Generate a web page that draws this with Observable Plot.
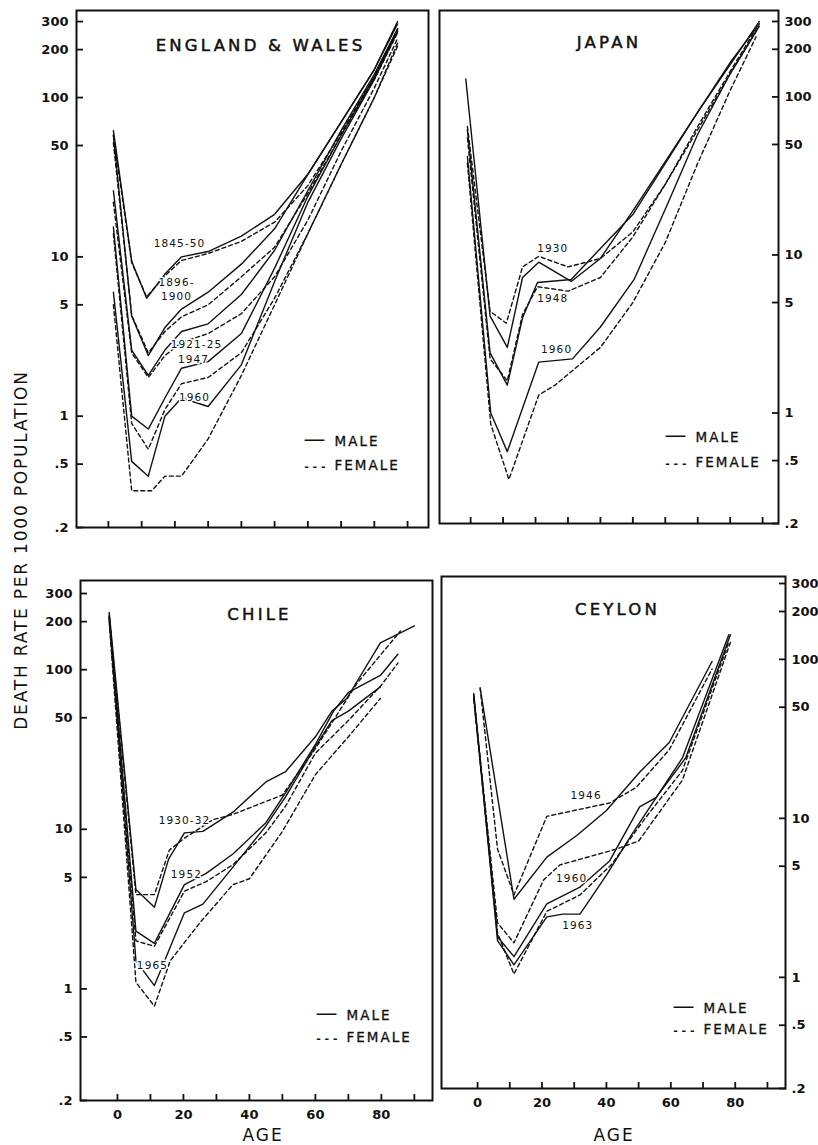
<!DOCTYPE html>
<html><head><meta charset="utf-8">
<script src="https://cdn.jsdelivr.net/npm/d3@7"></script>
<script src="https://cdn.jsdelivr.net/npm/@observablehq/plot@0.6"></script>
<style>
body{margin:0;background:#fff;}
#chart{position:relative;width:818px;height:1145px;font-family:"DejaVu Sans",sans-serif;color:#111;overflow:hidden;}
#chart svg{position:absolute;overflow:visible;}
.ytitle{position:absolute;left:21px;top:550px;transform:translate(-50%,-50%) rotate(-90deg);white-space:nowrap;font-size:17px;letter-spacing:1.8px;}
.xtitle{position:absolute;top:1125px;transform:translateX(-50%);font-size:17px;letter-spacing:2px;}
</style></head><body><div id="chart"><div class="ytitle">DEATH RATE PER 1000 POPULATION</div><div class="xtitle" style="left:263px">AGE</div><div class="xtitle" style="left:614px">AGE</div></div>
<script>
// ---------- data ----------
const yTicks = [0.2, 0.5, 1, 5, 10, 50, 100, 200, 300];
const xTicks = [0, 10, 20, 30, 40, 50, 60, 70, 80, 90];
const xLabels = [0, 20, 40, 60, 80];

// England & Wales  [age, rate]
const ew1845M = [[1.5,62],[7,9.4],[11.5,5.5],[17,7.8],[22,10],[30,10.8],[40,13.5],[50,18.5],[60,33],[70,70],[80,150],[87,300]];
const ew1845F = [[1.5,58],[7,9.2],[11.5,5.6],[17,7.6],[22,9.5],[30,10.5],[40,12.5],[50,16.5],[60,28],[70,60],[80,135],[87,270]];
const ew1896M = [[1.5,58],[7,4.25],[12,2.4],[17,3.6],[22,4.7],[30,6.0],[40,9.0],[50,15],[60,33],[70,70],[80,150],[87,290]];
const ew1896F = [[1.5,52],[7,4.3],[12,2.5],[17,3.4],[22,4.2],[30,5.0],[40,7.5],[50,11.5],[60,25],[70,58],[80,130],[87,255]];
const ew1921M = [[1.5,26],[7,2.6],[12,1.8],[17,2.6],[22,3.4],[30,3.8],[40,5.8],[50,11],[60,26],[70,62],[80,140],[87,270]];
const ew1921F = [[1.5,22],[7,2.5],[12,1.75],[17,2.4],[22,2.9],[30,3.3],[40,4.4],[50,7.5],[60,17],[70,46],[80,115],[87,235]];
const ew1947M = [[1.5,15.4],[7,1.0],[12,0.83],[17,1.3],[22,2.0],[30,2.2],[40,3.3],[50,8.5],[60,24],[70,58],[80,135],[87,265]];
const ew1947F = [[1.5,14],[7,0.9],[12,0.62],[17,1.1],[22,1.6],[30,1.75],[40,2.5],[50,5.5],[60,14],[70,38],[80,100],[87,220]];
const ew1960M = [[1.5,6],[7,0.52],[12,0.42],[17,1.0],[22,1.3],[30,1.15],[40,2.1],[50,7],[60,22],[70,55],[80,130],[87,260]];
const ew1960F = [[1.5,5],[7,0.34],[13,0.34],[17,0.42],[22,0.42],[30,0.72],[40,1.8],[50,5],[60,14],[70,38],[80,100],[87,210]];
const ewLabels = ["1845-50", "1896-", "1900", "1921-25", "1947", "1960"];
const ewLabelAges = [21.4, 20.5, 20.5, 26.5, 25.6, 25.9];
const ewLabelRates = [12.1, 6.9, 5.6, 2.8, 2.28, 1.31];

// Japan
const jp1930M = [[-1.5,130],[6,4.1],[11.3,2.6],[16,7.2],[21,9.0],[31,6.8],[40,9.5],[50,19],[60,39],[70,80],[80,160],[89,300]];
const jp1930F = [[-1,65],[6,4.4],[11,3.7],[16,8.4],[21,9.8],[30,8.4],[40,9.5],[50,14],[60,28],[70,62],[80,140],[88,260]];
const jp1948M = [[-1,62],[6,2.4],[11.3,1.5],[16,4.0],[20.6,6.7],[31,7.0],[40,11],[50,18],[60,38],[70,80],[80,165],[89,290]];
const jp1948F = [[-1,55],[6,2.2],[11.3,1.6],[16,4.2],[20.6,6.3],[30,5.9],[40,7.2],[50,13],[60,28],[70,65],[80,145],[88,270]];
const jp1960M = [[-1,42],[6.2,1.0],[11.3,0.57],[21,2.1],[31.4,2.2],[40,3.5],[50.4,7.0],[60.7,21],[70,58],[80,140],[89,280]];
const jp1960F = [[-1,38],[6.2,0.85],[11.8,0.38],[21,1.3],[26,1.5],[40,2.6],[50,5],[60,12],[70,38],[80,110],[88,240]];
const jpLabels = ["1930", "1948", "1960"];
const jpLabelAges = [25.3, 25.3, 26.5];
const jpLabelRates = [10.9, 5.3, 2.5];

// Chile
const cl1930M = [[-2.5,228],[5.6,4.2],[11.2,3.25],[15.5,6.5],[20.3,9.5],[25.9,9.7],[35,12.8],[45,19.8],[51,23],[60,38],[65,55],[69.5,66],[79.7,147],[90,188]];
const cl1930F = [[-2.5,215],[5.6,3.9],[11.2,3.9],[15.7,7.4],[20.3,8.8],[29,11.5],[35,12.4],[50,16.4],[60,32],[72.6,82],[85.8,175]];
const cl1952M = [[-2.5,220],[5.6,2.3],[11.2,1.93],[20.3,4.5],[26.9,5.3],[35,7],[45,11],[51,17],[60,34],[65.5,55],[70,72],[79.7,92],[85,125]];
const cl1952F = [[-2.5,210],[5.6,2.0],[11.2,1.85],[20.3,4.1],[26.9,4.7],[35,6],[45,9.5],[51,14],[60,30],[70,48],[80,80],[85,110]];
const cl1965M = [[-2.5,215],[5.6,1.5],[11.2,1.05],[20.3,3.0],[25.9,3.4],[35,5.8],[45,10.5],[51,16],[60,33],[65,48],[70,55],[79.7,78]];
const cl1965F = [[-2.5,200],[5.6,1.1],[11.2,0.78],[16,1.5],[25,2.6],[35,4.5],[40,4.9],[50,9.7],[60,22],[70,38],[79.7,66]];
const clLabels = ["1930-32", "1952", "1965"];
const clLabelAges = [20.3, 20.9, 10.6];
const clLabelRates = [11.3, 5.2, 1.4];

// Ceylon
const cy1946M = [[0.8,66],[11.3,3.1],[21.5,5.7],[30.8,7.8],[40,11.2],[50.3,19.5],[59.5,30],[72.8,97]];
const cy1946F = [[0.8,66],[6.2,6.4],[11.3,3.3],[21.5,10.3],[41,12.5],[49.2,15.6],[59.5,27],[72.8,87]];
const cy1960M = [[-1.2,61],[6.2,1.8],[11.3,1.35],[21.5,2.9],[31.8,3.7],[41,5.4],[50.3,11.8],[55.4,13.5],[64.6,24],[78.5,143]];
const cy1960F = [[-1.2,58],[6.2,2.2],[11.3,1.65],[20.5,4.1],[25.6,5.1],[43,6.4],[50,7.2],[63.6,17.4],[78.5,128]];
const cy1963M = [[-1.2,60],[6.2,1.7],[11.3,1.2],[21.5,2.4],[26.5,2.5],[31.8,2.5],[40,4.4],[48,8],[63.6,24],[78,143]];
const cy1963F = [[-1.2,56],[6.2,1.9],[11.3,1.05],[21.5,2.6],[31.8,3.3],[41.5,5.1],[52,10],[63.6,20],[78,128]];
const cyLabels = ["1946", "1960", "1963"];
const cyLabelAges = [33.7, 29.2, 31.1];
const cyLabelRates = [13.8, 4.16, 2.11];

// ---------- build ----------
function rows(pairs, key) {
  return pairs.map(([age, rate]) => ({age, rate, key}));
}
function labelRows(labels, ages, rates) {
  return labels.map((t, i) => ({t, age: ages[i], rate: rates[i]}));
}
const fmtY = d => d < 1 ? String(d).replace(/^0/, "") : String(d);

function panel(cfg) {
  const left = cfg.side === "left";
  const mL = left ? 70 : 8;
  const mR = left ? 8 : 40;
  const mT = 8, mB = cfg.bottom ? 40 : 10;
  const W = cfg.R - cfg.L + mL + mR;
  const H = cfg.B - cfg.T + mT + mB;
  const male = cfg.male.flat(), female = cfg.female.flat();
  const svg = Plot.plot({
    width: W, height: H,
    marginLeft: mL, marginRight: mR, marginTop: mT, marginBottom: mB,
    style: {fontFamily: "DejaVu Sans, sans-serif", fontSize: "13px", color: "#111", background: "transparent", overflow: "visible"},
    x: {domain: cfg.xd},
    y: {type: "log", domain: cfg.yd},
    marks: [
      Plot.frame({stroke: "#111", strokeWidth: 2}),
      Plot.axisY({anchor: cfg.side, ticks: yTicks, tickFormat: () => "", tickSize: -7, strokeWidth: 1.8, label: null}),
      Plot.text(yTicks, {y: d => d, text: fmtY, frameAnchor: cfg.side, textAnchor: left ? "end" : "start", dx: left ? -8 : 6,
        fontSize: 13, fontWeight: 600, fill: "#111"}),
      Plot.axisX({anchor: "bottom", ticks: xTicks, tickSize: -6, tickPadding: 15, strokeWidth: 1.8, label: null, fontSize: 13, fontWeight: 600,
        tickFormat: d => cfg.bottom && xLabels.includes(d) ? String(d) : ""}),
      Plot.line(male, {x: "age", y: "rate", z: "key", stroke: "#111", strokeWidth: 1.4}),
      Plot.line(female, {x: "age", y: "rate", z: "key", stroke: "#111", strokeWidth: 1.4, strokeDasharray: "4,3"}),
      Plot.text(cfg.labels, {x: "age", y: "rate", text: "t", fontSize: 10.5, fill: "#111", stroke: "white", strokeWidth: 3}),
      Plot.text([cfg.title], {frameAnchor: "top", dx: cfg.titleDx, dy: cfg.titleDy, fontSize: 16.5, fill: "#111", stroke: "#111", strokeWidth: 0.5}),
      Plot.text(["MALE"], {frameAnchor: "bottom-right", textAnchor: "start", dx: cfg.legX, dy: cfg.legY, fontSize: 13.5, fill: "#111", stroke: "#111", strokeWidth: 0.3}),
      Plot.text(["FEMALE"], {frameAnchor: "bottom-right", textAnchor: "start", dx: cfg.legX, dy: cfg.legY + cfg.legGap, fontSize: 13.5, fill: "#111", stroke: "#111", strokeWidth: 0.3}),
      Plot.text(["\u2014"], {frameAnchor: "bottom-right", textAnchor: "end", dx: cfg.legX - 9, dy: cfg.legY, fontSize: 22, fill: "#111"}),
      Plot.text(["- - -"], {frameAnchor: "bottom-right", textAnchor: "end", dx: cfg.legX - 9, dy: cfg.legY + cfg.legGap, fontSize: 11, fill: "#111", fontWeight: 700})
    ]
  });
  const texts = d3.select(svg).selectAll("text");
  texts.filter(function() { return this.textContent === cfg.title; }).style("letter-spacing", "3.2px");
  texts.filter(function() { return this.textContent === "MALE" || this.textContent === "FEMALE"; }).style("letter-spacing", "2px");
  const labelSet = new Set(cfg.labels.map(d => d.t));
  texts.filter(function() { return labelSet.has(this.textContent); }).style("letter-spacing", "1.1px");
  svg.style.left = (cfg.L - mL) + "px";
  svg.style.top = (cfg.T - mT) + "px";
  document.getElementById("chart").appendChild(svg);
}

panel({side: "left", bottom: false, L: 76, R: 428, T: 10, B: 527, xd: [-9.6, 96.3], yd: [0.2, 352],
  title: "ENGLAND & WALES", titleDx: 8, titleDy: 29, legX: -94, legY: -82, legGap: 24,
  male: [rows(ew1845M, "a"), rows(ew1896M, "b"), rows(ew1921M, "c"), rows(ew1947M, "d"), rows(ew1960M, "e")],
  female: [rows(ew1845F, "a"), rows(ew1896F, "b"), rows(ew1921F, "c"), rows(ew1947F, "d"), rows(ew1960F, "e")],
  labels: labelRows(ewLabels, ewLabelAges, ewLabelRates)});
panel({side: "right", bottom: false, L: 439, R: 778, T: 10, B: 523, xd: [-9.6, 94.9], yd: [0.2, 352],
  title: "JAPAN", titleDx: 0, titleDy: 26, legX: -83, legY: -82, legGap: 25,
  male: [rows(jp1930M, "a"), rows(jp1948M, "b"), rows(jp1960M, "c")],
  female: [rows(jp1930F, "a"), rows(jp1948F, "b"), rows(jp1960F, "c")],
  labels: labelRows(jpLabels, jpLabelAges, jpLabelRates)});
panel({side: "left", bottom: true, L: 80, R: 432, T: 580, B: 1100, xd: [-11.2, 95.5], yd: [0.2, 362],
  title: "CHILE", titleDx: 3, titleDy: 28, legX: -86, legY: -81, legGap: 22,
  male: [rows(cl1930M, "a"), rows(cl1952M, "b"), rows(cl1965M, "c")],
  female: [rows(cl1930F, "a"), rows(cl1952F, "b"), rows(cl1965F, "c")],
  labels: labelRows(clLabels, clLabelAges, clLabelRates)});
panel({side: "right", bottom: true, L: 441, R: 785, T: 576, B: 1088, xd: [-11.2, 95.6], yd: [0.2, 332],
  title: "CEYLON", titleDx: 4, titleDy: 27, legX: -82, legY: -76, legGap: 21,
  male: [rows(cy1946M, "a"), rows(cy1960M, "b"), rows(cy1963M, "c")],
  female: [rows(cy1946F, "a"), rows(cy1960F, "b"), rows(cy1963F, "c")],
  labels: labelRows(cyLabels, cyLabelAges, cyLabelRates)});
</script></body></html>
